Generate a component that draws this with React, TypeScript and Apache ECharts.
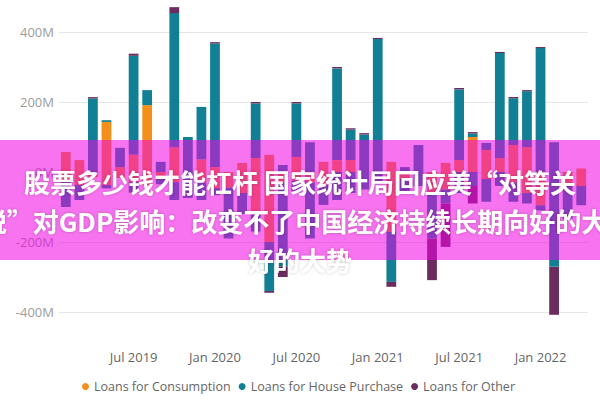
import React, { useEffect, useRef } from 'react';
import * as echarts from 'echarts';

// monthly categories, Feb 2019 - Apr 2022
const months = [
  'Feb 2019', 'Mar 2019', 'Apr 2019', 'May 2019', 'Jun 2019', 'Jul 2019', 'Aug 2019', 'Sep 2019', 'Oct 2019', 'Nov 2019', 'Dec 2019',
  'Jan 2020', 'Feb 2020', 'Mar 2020', 'Apr 2020', 'May 2020', 'Jun 2020', 'Jul 2020', 'Aug 2020', 'Sep 2020', 'Oct 2020', 'Nov 2020', 'Dec 2020',
  'Jan 2021', 'Feb 2021', 'Mar 2021', 'Apr 2021', 'May 2021', 'Jun 2021', 'Jul 2021', 'Aug 2021', 'Sep 2021', 'Oct 2021', 'Nov 2021', 'Dec 2021',
  'Jan 2022', 'Feb 2022', 'Mar 2022', 'Apr 2022'
];

// values in millions; positive and negative parts kept apart so they stack like the original
const consumptionUp = [57, 34, 0, 143, 14, 49, 191, 0, 71, 0, 36, 14, 0, 26, 40, 49, 0, 43, 0, 29, 34, 34, 0, 0, 29, 0, 0, 0, 26, 34, 100, 63, 40, 77, 71, 0, 0, 0, 10];
const consumptionDown = [-29, -37, -15, -37, -17, -29, -37, -15, -29, 0, -30, -46, -45, -60, -120, -200, -30, -25, -30, -37, 0, 0, 0, 0, -171, -20, 0, -60, -50, 0, 0, -20, 0, -30, -60, -95, 0, -33, -40];
const housePurchaseUp = [0, 0, 210, 5, 55, 283, 43, 29, 383, 100, 150, 353, 0, 0, 156, 0, 20, 153, 85, 0, 262, 87, 107, 380, 0, 14, 77, 0, 0, 202, 10, 20, 300, 134, 160, 354, 85, 0, 0];
const housePurchaseDown = [-71, -43, 0, -10, 0, -30, 0, -20, -51, -74, -50, -20, -145, -60, -50, -140, -240, -30, -160, -57, -80, -60, -50, -30, -143, -40, -40, -130, -40, -60, -40, -65, -40, -55, -30, -15, -271, -100, -55];
const otherUp = [0, 0, 4, 0, 0, 6, 0, 0, 17, 0, 0, 4, 0, 0, 4, 0, 0, 4, 0, 0, 4, 4, 4, 3, 0, 0, 0, 0, 0, 4, 4, 0, 3, 3, 3, 3, 0, 0, 0];
const otherDown = [0, 0, 0, 0, 0, 0, 0, 0, 0, 0, 0, 0, 0, 0, 0, -5, -30, 0, 0, 0, 0, 0, 0, 0, -14, 0, 0, -119, -124, 0, -50, 0, 0, 0, 0, 0, -137, 0, 0];

const yTicks = [-400, -200, 0, 200, 400];
const seriesNames = ['Loans for Consumption', 'Loans for House Purchase', 'Loans for Other'];
const seriesColors = ['#F2901B', '#128094', '#6B2D5F'];

const headline = [
  '股票多少钱才能杠杆 国家统计局回应美“对等关',
  '税”对GDP影响：改变不了中国经济持续长期向好的大',
  '好的大势'
];

const App: React.FC = () => {
  const chartRef = useRef<HTMLDivElement>(null);

  useEffect(() => {
    if (!chartRef.current) return;
    const chart = echarts.init(chartRef.current, undefined, { renderer: 'svg' });

    const bar = (idx: number, data: number[]) => ({
      name: seriesNames[idx],
      type: 'bar',
      stack: 'loans',
      data,
      barCategoryGap: '28%',
      itemStyle: { color: seriesColors[idx] },
      emphasis: { disabled: true }
    });

    // the banner text runs past both edges in the original, so it is cut there too
    const headText = (text: string, x: number, y: number) => ({
      type: 'text',
      x,
      y,
      z: 101,
      silent: true,
      style: {
        text,
        fill: '#fff',
        fontSize: 26,
        fontWeight: 'bold',
        fontFamily: '"Noto Sans CJK SC", sans-serif',
        textAlign: 'center',
        textVerticalAlign: 'middle',
        textShadowColor: 'rgba(0,0,0,0.25)',
        textShadowBlur: 3
      }
    });

    chart.setOption({
      animation: false,
      textStyle: { fontFamily: '"Open Sans", sans-serif' },
      grid: { left: 59, right: 12, top: 4, bottom: 74 },
      legend: {
        data: seriesNames,
        left: 77,
        top: 375,
        icon: 'circle',
        itemWidth: 7,
        itemHeight: 7,
        itemGap: 8,
        textStyle: { color: '#666', fontSize: 12.5 }
      },
      xAxis: {
        type: 'category',
        data: months,
        axisLine: { show: false, onZero: false },
        axisTick: { show: false },
        axisLabel: {
          color: '#666',
          fontSize: 13,
          margin: 24,
          interval: (_: number, v: string) => v.startsWith('Jan') || v.startsWith('Jul')
        }
      },
      yAxis: {
        type: 'value',
        min: -440,
        max: 480,
        interval: 40,
        splitLine: { show: false },
        axisLabel: {
          color: '#9C9C9C',
          fontSize: 13,
          margin: 5,
          formatter: (v: number) => (v % 200 === 0 ? `${v}M` : '')
        }
      },
      series: [
        {
          ...bar(0, consumptionUp),
          markLine: {
            silent: true,
            z: 1,
            symbol: 'none',
            label: { show: false },
            lineStyle: { color: '#E6E6E6', type: 'solid', width: 1 },
            data: yTicks.map((v) => ({ yAxis: v }))
          }
        },
        bar(1, housePurchaseUp),
        bar(2, otherUp),
        bar(0, consumptionDown),
        bar(1, housePurchaseDown),
        bar(2, otherDown)
      ],
      graphic: [
        {
          type: 'rect',
          z: 100,
          silent: true,
          shape: { x: 0, y: 140, width: 600, height: 120 },
          style: { fill: 'rgba(240, 0, 225, 0.55)' }
        },
        headText(headline[0], 300, 181),
        headText(headline[1], 294, 220),
        headText(headline[2], 300, 259)
      ]
    });

    return () => {
      chart.dispose();
    };
  }, []);

  return (
    <div
      ref={chartRef}
      style={{ position: 'absolute', left: 0, top: 0, width: 600, height: 400, background: '#fff' }}
    />
  );
};

export default App;
